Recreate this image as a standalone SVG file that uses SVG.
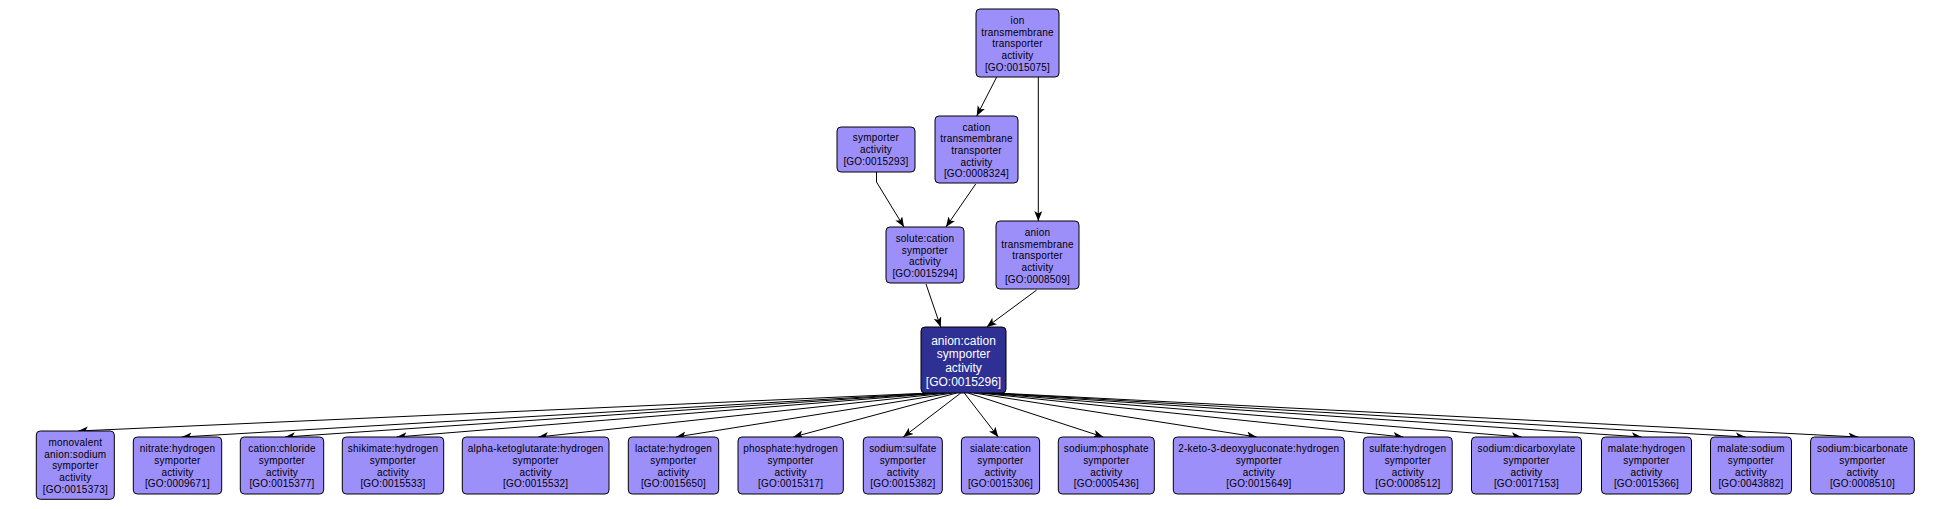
<svg xmlns="http://www.w3.org/2000/svg" width="1953" height="509" viewBox="0 0 1953 509">
<style>
.n rect{fill:#9d8ff9;stroke:#000;stroke-width:1}
.n text{font-family:"Liberation Sans",Arial,sans-serif;font-size:10px;letter-spacing:0.2px;fill:#000;text-anchor:middle}
.d rect{fill:#2e3094;stroke:#000;stroke-width:1}
.d text{font-family:"Liberation Sans",Arial,sans-serif;font-size:12px;fill:#fff;text-anchor:middle}
#edges path{fill:none;stroke:#000;stroke-width:1;marker-end:url(#ah)}
</style>
<defs>
<marker id="ah" markerUnits="userSpaceOnUse" markerWidth="11" markerHeight="9" refX="10" refY="4" orient="auto">
<path d="M0,0 L10,4 L0,8 L2.5,4 z" fill="#000"/>
</marker>
</defs>
<rect width="1953" height="509" fill="#fff"/>
<g id="edges">
<path d="M996.7,77 L976.7,116"/>
<path d="M1038.3,77 L1038.3,221"/>
<path d="M876.5,172 L876.5,182 L904,227"/>
<path d="M975.7,184 L946,227"/>
<path d="M926,284 L940.7,327"/>
<path d="M1036.7,290 L986.7,327"/>
<path d="M930.3,393 L78,431"/>
<path d="M934,393 L181.7,437"/>
<path d="M938,393 L285,437"/>
<path d="M942,393 L396.7,437"/>
<path d="M947.3,393 L538.3,437"/>
<path d="M952.4,393 L676,437"/>
<path d="M956.7,393 L793.3,437"/>
<path d="M960.8,393 L903.3,437"/>
<path d="M964.3,393 L998.3,437"/>
<path d="M968.2,393 L1103.3,437"/>
<path d="M973.9,393 L1256.7,437"/>
<path d="M979.3,393 L1403.3,437"/>
<path d="M983.7,393 L1521.7,437"/>
<path d="M988.1,393 L1641.7,437"/>
<path d="M991.9,393 L1745.7,437"/>
<path d="M996.1,393 L1858.3,437"/>
</g>
<g id="GO0015075" class="n"><rect x="976" y="9" width="83" height="68" rx="4"/>
<text x="1017.5" y="24">ion</text><text x="1017.5" y="35.7">transmembrane</text><text x="1017.5" y="47.4">transporter</text><text x="1017.5" y="59.1">activity</text><text x="1017.5" y="70.8">[GO:0015075]</text></g>
<g id="GO0008324" class="n"><rect x="935" y="116" width="83" height="67" rx="4"/>
<text x="976.5" y="130.5">cation</text><text x="976.5" y="142.2">transmembrane</text><text x="976.5" y="153.9">transporter</text><text x="976.5" y="165.6">activity</text><text x="976.5" y="177.3">[GO:0008324]</text></g>
<g id="GO0015293" class="n"><rect x="837" y="127" width="78" height="45" rx="4"/>
<text x="876" y="141.3">symporter</text><text x="876" y="153">activity</text><text x="876" y="164.7">[GO:0015293]</text></g>
<g id="GO0015294" class="n"><rect x="886" y="227" width="78" height="56" rx="4"/>
<text x="925" y="242">solute:cation</text><text x="925" y="253.7">symporter</text><text x="925" y="265.4">activity</text><text x="925" y="277.1">[GO:0015294]</text></g>
<g id="GO0008509" class="n"><rect x="996" y="221" width="83" height="68" rx="4"/>
<text x="1037.5" y="236">anion</text><text x="1037.5" y="247.7">transmembrane</text><text x="1037.5" y="259.4">transporter</text><text x="1037.5" y="271.1">activity</text><text x="1037.5" y="282.8">[GO:0008509]</text></g>
<g id="GO0015296" class="d"><rect x="921" y="327" width="85" height="66" rx="4"/>
<text x="963.5" y="344.5">anion:cation</text><text x="963.5" y="358.4">symporter</text><text x="963.5" y="372.3">activity</text><text x="963.5" y="386.2">[GO:0015296]</text></g>
<g id="GO0015373" class="n"><rect x="36.3" y="431" width="78" height="68.3" rx="4"/>
<text x="75.3" y="446">monovalent</text><text x="75.3" y="457.7">anion:sodium</text><text x="75.3" y="469.4">symporter</text><text x="75.3" y="481.1">activity</text><text x="75.3" y="492.8">[GO:0015373]</text></g>
<g id="GO0009671" class="n"><rect x="133.3" y="437" width="88.4" height="57" rx="4"/>
<text x="177.5" y="452.3">nitrate:hydrogen</text><text x="177.5" y="464">symporter</text><text x="177.5" y="475.7">activity</text><text x="177.5" y="487.4">[GO:0009671]</text></g>
<g id="GO0015377" class="n"><rect x="240.3" y="437" width="83.4" height="57" rx="4"/>
<text x="282" y="452.3">cation:chloride</text><text x="282" y="464">symporter</text><text x="282" y="475.7">activity</text><text x="282" y="487.4">[GO:0015377]</text></g>
<g id="GO0015533" class="n"><rect x="342.3" y="437" width="101.4" height="57" rx="4"/>
<text x="393" y="452.3">shikimate:hydrogen</text><text x="393" y="464">symporter</text><text x="393" y="475.7">activity</text><text x="393" y="487.4">[GO:0015533]</text></g>
<g id="GO0015532" class="n"><rect x="462.3" y="437" width="146.7" height="57" rx="4"/>
<text x="535.7" y="452.3">alpha-ketoglutarate:hydrogen</text><text x="535.7" y="464">symporter</text><text x="535.7" y="475.7">activity</text><text x="535.7" y="487.4">[GO:0015532]</text></g>
<g id="GO0015650" class="n"><rect x="628.3" y="437" width="90.4" height="57" rx="4"/>
<text x="673.5" y="452.3">lactate:hydrogen</text><text x="673.5" y="464">symporter</text><text x="673.5" y="475.7">activity</text><text x="673.5" y="487.4">[GO:0015650]</text></g>
<g id="GO0015317" class="n"><rect x="738" y="437" width="105.3" height="57" rx="4"/>
<text x="790.7" y="452.3">phosphate:hydrogen</text><text x="790.7" y="464">symporter</text><text x="790.7" y="475.7">activity</text><text x="790.7" y="487.4">[GO:0015317]</text></g>
<g id="GO0015382" class="n"><rect x="863.3" y="437" width="79" height="57" rx="4"/>
<text x="902.8" y="452.3">sodium:sulfate</text><text x="902.8" y="464">symporter</text><text x="902.8" y="475.7">activity</text><text x="902.8" y="487.4">[GO:0015382]</text></g>
<g id="GO0015306" class="n"><rect x="961.4" y="437" width="78.2" height="57" rx="4"/>
<text x="1000.5" y="452.3">sialate:cation</text><text x="1000.5" y="464">symporter</text><text x="1000.5" y="475.7">activity</text><text x="1000.5" y="487.4">[GO:0015306]</text></g>
<g id="GO0005436" class="n"><rect x="1058.3" y="437" width="96" height="57" rx="4"/>
<text x="1106.3" y="452.3">sodium:phosphate</text><text x="1106.3" y="464">symporter</text><text x="1106.3" y="475.7">activity</text><text x="1106.3" y="487.4">[GO:0005436]</text></g>
<g id="GO0015649" class="n"><rect x="1173.3" y="437" width="171" height="57" rx="4"/>
<text x="1258.8" y="452.3">2-keto-3-deoxygluconate:hydrogen</text><text x="1258.8" y="464">symporter</text><text x="1258.8" y="475.7">activity</text><text x="1258.8" y="487.4">[GO:0015649]</text></g>
<g id="GO0008512" class="n"><rect x="1363.3" y="437" width="88.9" height="57" rx="4"/>
<text x="1407.8" y="452.3">sulfate:hydrogen</text><text x="1407.8" y="464">symporter</text><text x="1407.8" y="475.7">activity</text><text x="1407.8" y="487.4">[GO:0008512]</text></g>
<g id="GO0017153" class="n"><rect x="1471.5" y="437" width="110" height="57" rx="4"/>
<text x="1526.5" y="452.3">sodium:dicarboxylate</text><text x="1526.5" y="464">symporter</text><text x="1526.5" y="475.7">activity</text><text x="1526.5" y="487.4">[GO:0017153]</text></g>
<g id="GO0015366" class="n"><rect x="1601.5" y="437" width="90" height="57" rx="4"/>
<text x="1646.5" y="452.3">malate:hydrogen</text><text x="1646.5" y="464">symporter</text><text x="1646.5" y="475.7">activity</text><text x="1646.5" y="487.4">[GO:0015366]</text></g>
<g id="GO0043882" class="n"><rect x="1710.5" y="437" width="81" height="57" rx="4"/>
<text x="1751" y="452.3">malate:sodium</text><text x="1751" y="464">symporter</text><text x="1751" y="475.7">activity</text><text x="1751" y="487.4">[GO:0043882]</text></g>
<g id="GO0008510" class="n"><rect x="1810.6" y="437" width="103.7" height="57" rx="4"/>
<text x="1862.5" y="452.3">sodium:bicarbonate</text><text x="1862.5" y="464">symporter</text><text x="1862.5" y="475.7">activity</text><text x="1862.5" y="487.4">[GO:0008510]</text></g>
</svg>
